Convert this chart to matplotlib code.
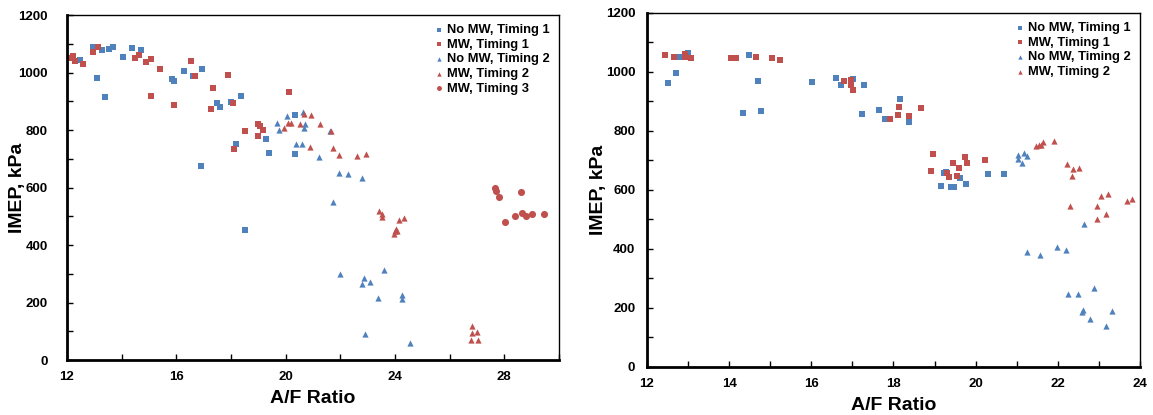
import numpy as np
import matplotlib.pyplot as plt
from matplotlib.ticker import MultipleLocator

plt.rcParams['font.family'] = ['Liberation Sans', 'DejaVu Sans']
plt.rcParams['font.weight'] = 'bold'

BLUE = '#4F81BD'
RED = '#C0504D'

# ---- left chart ----
a_nomw_t1_x = [12.48, 12.96, 13.27, 13.54, 13.67, 13.09, 13.39, 14.04, 14.37, 14.70,
               15.85, 15.92, 16.27, 16.60, 16.95, 16.91, 17.48, 17.58, 18.00, 18.36,
               18.19, 19.28, 19.39, 20.34, 20.34, 18.52]
a_nomw_t1_y = [1043, 1090, 1078, 1082, 1090, 982, 916, 1055, 1087, 1079,
               979, 972, 1006, 989, 1013, 676, 895, 880, 898, 919,
               752, 770, 721, 717, 853, 452]

a_mw_t1_x = [12.09, 12.23, 12.28, 12.57, 12.94, 13.12, 14.49, 14.62, 14.88, 15.06,
             15.06, 15.39, 15.92, 16.53, 16.68, 17.34, 17.26, 17.88, 18.07, 18.51,
             18.10, 19.00, 19.05, 19.17, 18.98, 20.12]
a_mw_t1_y = [1052, 1057, 1041, 1031, 1072, 1090, 1052, 1062, 1038, 1048,
             919, 1013, 888, 1041, 989, 947, 874, 992, 895, 798,
             735, 821, 815, 801, 780, 933]

a_nomw_t2_x = [19.68, 19.74, 20.06, 20.62, 20.72, 20.66, 20.39, 20.60, 21.22, 21.63,
               21.95, 22.29, 22.78, 21.72, 22.00, 22.88, 22.78, 23.10, 23.61, 23.37,
               24.26, 24.26, 22.90, 24.54]
a_nomw_t2_y = [823, 800, 849, 863, 820, 806, 751, 753, 705, 798,
               649, 647, 633, 548, 298, 286, 264, 273, 314, 216,
               227, 212, 92, 59]

a_mw_t2_x = [19.94, 20.07, 20.20, 20.51, 20.68, 20.93, 21.27, 21.67, 20.90, 21.73,
             21.95, 22.60, 22.94, 23.43, 23.53, 23.54, 24.15, 24.32, 24.04, 23.99,
             24.07, 23.95, 26.83, 26.82, 26.99, 26.79, 27.03]
a_mw_t2_y = [807, 826, 823, 821, 856, 851, 821, 797, 742, 736,
             712, 708, 717, 520, 507, 499, 487, 495, 456, 450,
             449, 437, 119, 94, 97, 68, 71]

a_mw_t3_x = [27.65, 27.68, 27.82, 28.62, 28.02, 28.40, 28.64, 28.78, 29.02, 29.45]
a_mw_t3_y = [598, 589, 568, 584, 480, 501, 510, 501, 509, 509]

# ---- right chart ----
b_nomw_t1_x = [12.51, 12.71, 12.80, 13.00, 14.34, 14.49, 14.71, 14.78, 16.02, 16.61,
               16.73, 17.02, 17.29, 17.24, 17.66, 17.80, 18.17, 18.37, 19.23, 19.28,
               19.15, 19.41, 19.48, 19.63, 19.76, 20.29, 20.68]
b_nomw_t1_y = [963, 997, 1052, 1065, 862, 1058, 970, 868, 967, 980,
               957, 977, 957, 858, 872, 841, 909, 831, 656, 661,
               614, 611, 611, 641, 620, 655, 655]

b_mw_t1_x = [12.44, 12.66, 12.92, 12.93, 13.07, 14.05, 14.16, 14.66, 15.05, 15.24,
             16.80, 16.97, 16.97, 17.02, 17.91, 18.13, 18.10, 18.37, 18.68, 18.97,
             18.92, 19.44, 19.59, 19.73, 19.78, 19.30, 19.34, 19.55, 20.22]
b_mw_t1_y = [1058, 1052, 1061, 1050, 1048, 1048, 1048, 1052, 1048, 1041,
             968, 973, 957, 940, 841, 882, 855, 851, 879, 723,
             665, 692, 675, 712, 692, 656, 645, 648, 702]

b_nomw_t2_x = [21.02, 21.03, 21.12, 21.18, 21.24, 22.63, 21.24, 21.56, 21.98, 22.19,
               22.26, 22.50, 22.87, 22.62, 22.60, 22.78, 23.32, 23.17]
b_nomw_t2_y = [717, 705, 693, 724, 715, 485, 391, 379, 407, 395,
               246, 246, 268, 193, 187, 162, 190, 138]

b_mw_t2_x = [21.48, 21.54, 21.59, 21.64, 21.91, 22.22, 22.36, 22.51, 22.35, 23.05,
             23.23, 23.68, 23.81, 22.29, 22.95, 23.18, 22.95]
b_mw_t2_y = [750, 752, 754, 763, 766, 687, 672, 675, 649, 580,
             585, 564, 568, 546, 546, 520, 501]

fig = plt.figure(figsize=(11.53, 4.15), dpi=100)
ax1 = fig.add_axes([0.0581, 0.1325, 0.4267, 0.8313])
ax2 = fig.add_axes([0.5611, 0.1157, 0.4276, 0.853])


def style(ax, xmaj, xmin, ypad):
    ax.set_ylim(0, 1200)
    ax.yaxis.set_major_locator(MultipleLocator(200))
    ax.yaxis.set_minor_locator(MultipleLocator(100))
    ax.xaxis.set_major_locator(MultipleLocator(xmaj))
    ax.xaxis.set_minor_locator(MultipleLocator(xmin))
    ax.tick_params(which='both', direction='in', length=4, width=1)
    ax.tick_params(axis='y', which='major', pad=ypad, labelsize=9.5)
    ax.tick_params(axis='x', which='major', pad=8, labelsize=9.5)
    for s in ['left', 'bottom']:
        ax.spines[s].set_linewidth(2)
    for s in ['top', 'right']:
        ax.spines[s].set_linewidth(1)
    ax.set_xlabel('A/F Ratio', fontsize=14, fontweight='bold', labelpad=5)
    ax.set_ylabel('IMEP, kPa', fontsize=14, fontweight='bold')


sq = dict(marker='s', s=24, linewidths=0)
tri = dict(marker='^', s=20, linewidths=0)

ax1.scatter(a_nomw_t1_x, a_nomw_t1_y, color=BLUE, label='No MW, Timing 1', **sq)
ax1.scatter(a_mw_t1_x, a_mw_t1_y, color=RED, label='MW, Timing 1', **sq)
ax1.scatter(a_nomw_t2_x, a_nomw_t2_y, color=BLUE, label='No MW, Timing 2', **tri)
ax1.scatter(a_mw_t2_x, a_mw_t2_y, color=RED, label='MW, Timing 2', **tri)
ax1.scatter(a_mw_t3_x, a_mw_t3_y, color=RED, marker='o', s=26, linewidths=0,
            label='MW, Timing 3')
ax1.set_xlim(12, 30)
style(ax1, 4, 2, 14)
ax1.yaxis.set_label_coords(-0.084, 0.5)

ax2.scatter(b_nomw_t1_x, b_nomw_t1_y, color=BLUE, label='No MW, Timing 1', **sq)
ax2.scatter(b_mw_t1_x, b_mw_t1_y, color=RED, label='MW, Timing 1', **sq)
ax2.scatter(b_nomw_t2_x, b_nomw_t2_y, color=BLUE, label='No MW, Timing 2', **tri)
ax2.scatter(b_mw_t2_x, b_mw_t2_y, color=RED, label='MW, Timing 2', **tri)
ax2.set_xlim(12, 24)
style(ax2, 2, 1, 8.5)
ax2.yaxis.set_label_coords(-0.082, 0.5)

for ax in (ax1, ax2):
    ax.legend(loc='upper right', frameon=False, markerscale=0.7,
              handletextpad=0.15, handlelength=0.9, labelspacing=0.2,
              borderaxespad=0.3, prop={'weight': 'bold', 'size': 9.3})

fig.savefig('out.png', dpi=100)
